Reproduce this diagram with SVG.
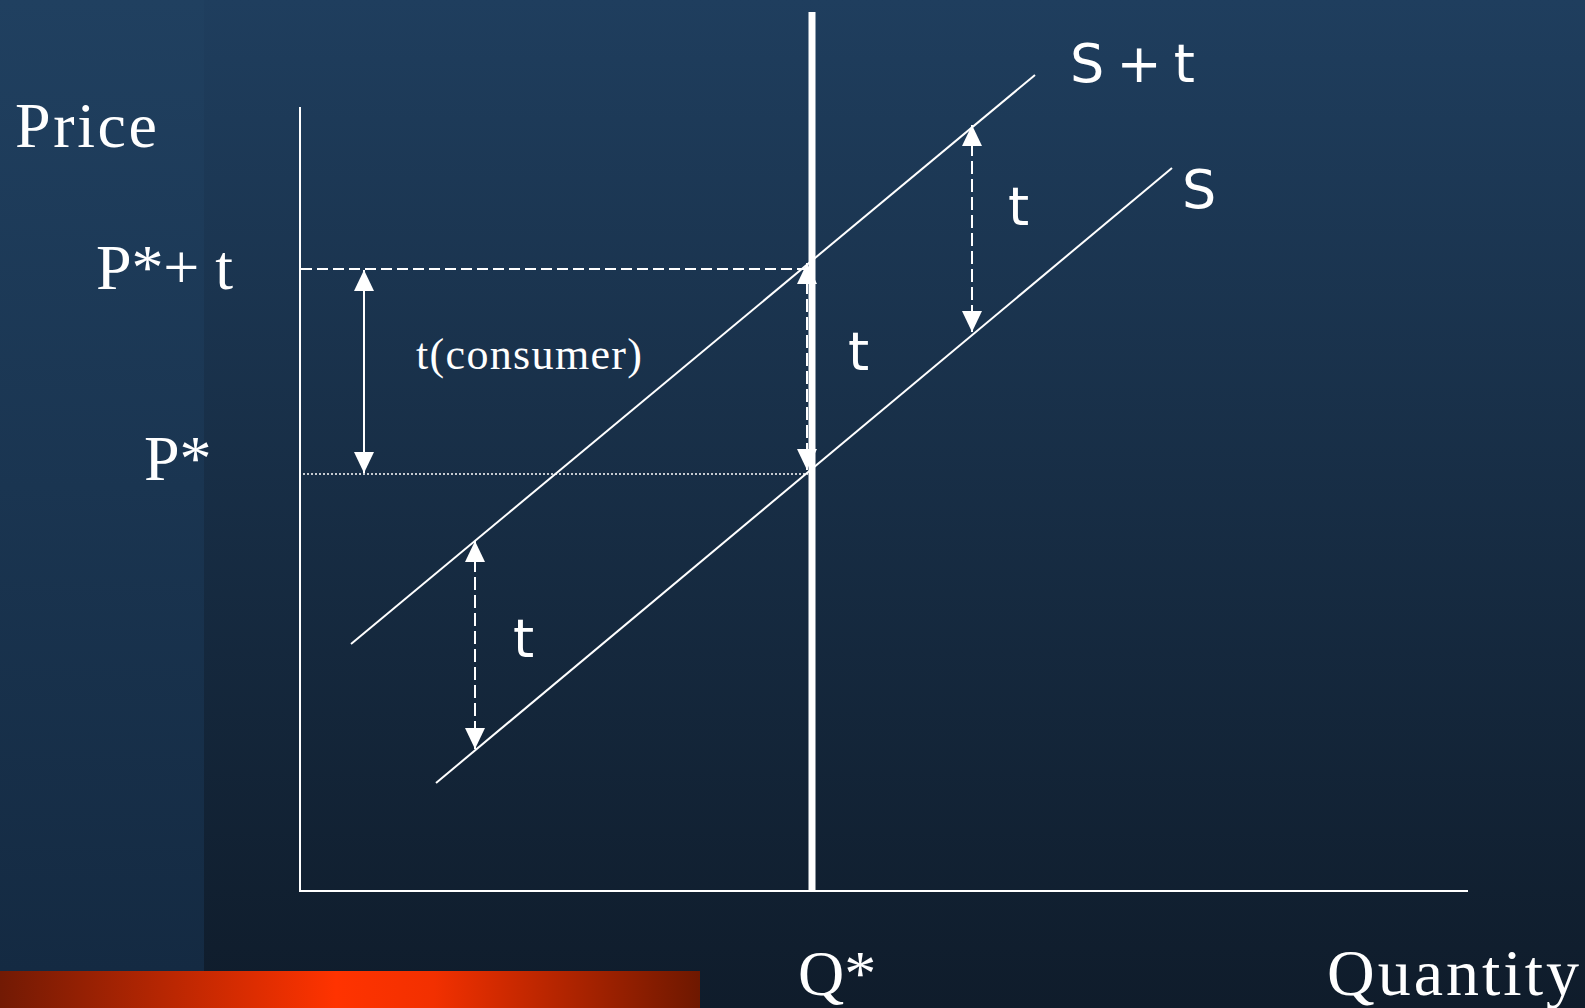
<svg xmlns="http://www.w3.org/2000/svg" width="1585" height="1008" viewBox="0 0 1585 1008">
<defs>
<linearGradient id="bg" x1="0" y1="0" x2="0" y2="1">
<stop offset="0" stop-color="#1f3e5e"/>
<stop offset="1" stop-color="#0f1c2b"/>
</linearGradient>
<linearGradient id="strip" x1="0" y1="0" x2="0" y2="1">
<stop offset="0" stop-color="#204060"/>
<stop offset="1" stop-color="#142a42"/>
</linearGradient>
<linearGradient id="bar" x1="0" y1="0" x2="1" y2="0">
<stop offset="0" stop-color="#721a04"/>
<stop offset="0.48" stop-color="#ff3300"/>
<stop offset="0.62" stop-color="#f23000"/>
<stop offset="1" stop-color="#6e1800"/>
</linearGradient>
<marker id="ah" viewBox="0 0 21 20" refX="21" refY="10" markerWidth="21" markerHeight="20" markerUnits="userSpaceOnUse" orient="auto-start-reverse">
<path d="M0,0 L21,10 L0,20 Z" fill="#ffffff"/>
</marker>
<style>
.ln{stroke:#ffffff;stroke-width:2;fill:none}
.dash{stroke:#ffffff;stroke-width:2;fill:none;stroke-dasharray:11 5}
.dot{stroke:#ffffff;stroke-width:1.5;fill:none;stroke-dasharray:2 2}
.arr{stroke:#ffffff;stroke-width:2;fill:none;stroke-dasharray:13 5;marker-start:url(#ah);marker-end:url(#ah)}
.serif{font-family:"Liberation Serif","Times New Roman",serif;fill:#ffffff}
.sans{font-family:"DejaVu Sans","Liberation Sans",sans-serif;fill:#ffffff}
</style>
</defs>
<rect x="0" y="0" width="1585" height="1008" fill="url(#bg)"/>
<rect x="0" y="0" width="204" height="972" fill="url(#strip)"/>
<rect x="0" y="971" width="700" height="37" fill="url(#bar)"/>

<g id="axes">
<line class="ln" x1="300" y1="107" x2="300" y2="892"/>
<line class="ln" x1="299" y1="891" x2="1468" y2="891"/>
</g>

<g id="connectors">
<line id="quantity-line" x1="812" y1="12" x2="812" y2="891" stroke="#ffffff" stroke-width="7"/>
<line id="supply-t" class="ln" x1="351" y1="644" x2="1035" y2="75"/>
<line id="supply" class="ln" x1="436" y1="783" x2="1172" y2="168"/>
<line id="p-t-line" class="dash" x1="301" y1="269" x2="808" y2="269"/>
<line id="p-line" class="dot" x1="303" y1="474" x2="808" y2="474"/>
<line id="consumer-arrow" x1="364" y1="270" x2="364" y2="473" stroke="#ffffff" stroke-width="2" marker-start="url(#ah)" marker-end="url(#ah)"/>
<line id="q-arrow" class="arr" x1="807" y1="263" x2="807" y2="470" stroke-width="3"/>
<line id="upper-arrow" class="arr" x1="972" y1="125" x2="972" y2="332"/>
<line id="lower-arrow" class="arr" x1="475" y1="541" x2="475" y2="749"/>
</g>

<g id="labels">
<text id="price" class="serif" x="15" y="147" font-size="64" textLength="142">Price</text>
<text id="pt" class="serif" x="96" y="289" font-size="64" textLength="137">P*+ t</text>
<text id="p" class="serif" x="144" y="480" font-size="64">P*</text>
<text id="consumer" class="serif" x="416" y="369" font-size="44" textLength="226">t(consumer)</text>
<text id="q" class="serif" x="798" y="995" font-size="64">Q*</text>
<text id="quantity" class="serif" x="1327" y="995" font-size="66" textLength="252">Quantity</text>
<text id="st" class="sans" x="1070" y="82" font-size="54" textLength="125">S + t</text>
<text id="s" class="sans" x="1182" y="208" font-size="54">S</text>
<text id="t1" class="sans" x="1008" y="225" font-size="54">t</text>
<text id="t2" class="sans" x="848" y="370" font-size="54">t</text>
<text id="t3" class="sans" x="513" y="657" font-size="54">t</text>
</g>
</svg>
